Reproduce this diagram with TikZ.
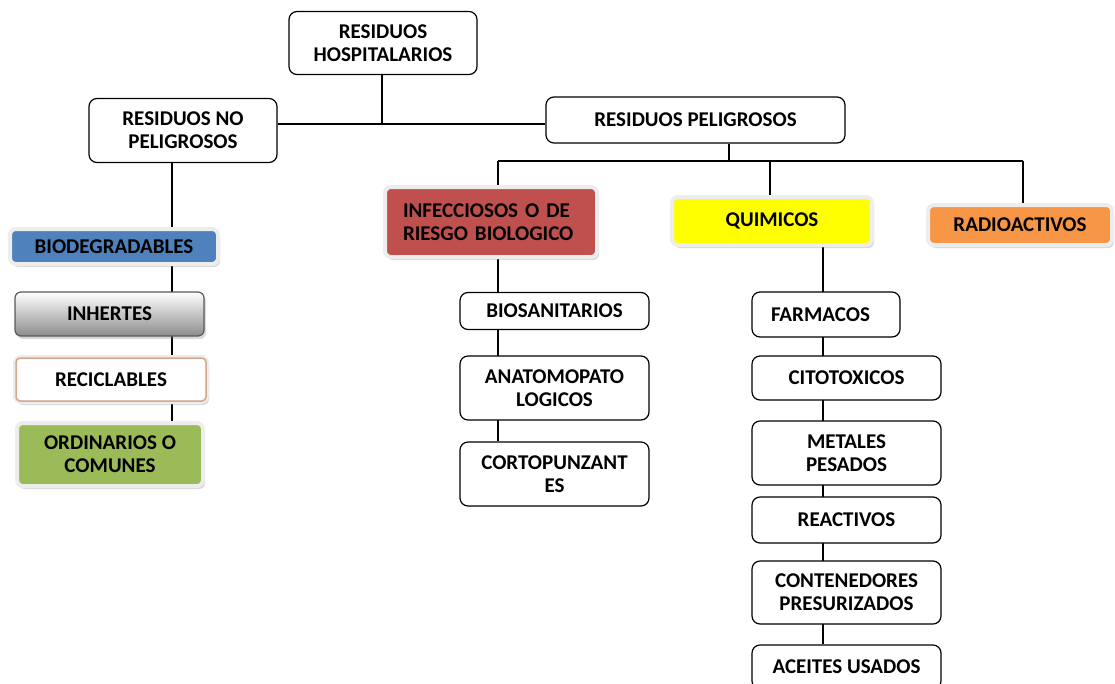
\documentclass[tikz,border=0pt]{standalone}
\usepackage{fontspec}
\setmainfont{Carlito}
\usepackage{tikz}
\usetikzlibrary{shadows,backgrounds}

\definecolor{azul}{HTML}{4F81BD}
\definecolor{rojo}{HTML}{C0504D}
\definecolor{amarillo}{HTML}{FFFF00}
\definecolor{naranja}{HTML}{F79646}
\definecolor{verde}{HTML}{9BBB59}
\definecolor{canela}{HTML}{D8A88C}

\begin{document}
\begin{tikzpicture}[x=1pt,y=-1pt,
  font=\fontsize{21}{23}\selectfont\bfseries,
  caja/.style={draw, fill=white, line width=1.2pt, rounded corners=8pt, align=center,
    inner sep=0pt, minimum width=#1},
  caja/.default=189pt,
  tinte/.style={fill=#1, draw=black!7, line width=4pt, rounded corners=6pt,
    align=center, inner sep=0pt,
    drop shadow={shadow xshift=2pt, shadow yshift=-3pt, opacity=0.3}},
  linea/.style={line width=1.1pt}]
\useasboundingbox (0,0) rectangle (1115,683);

% nivel 1 y 2
\node[caja=188pt, minimum height=63pt] (hosp) at (383,43) {RESIDUOS\\HOSPITALARIOS};
\node[caja=188pt, minimum height=64pt] (nopel) at (183,130.5) {RESIDUOS NO\\PELIGROSOS};
\node[caja=299pt, minimum height=46pt] (pel) at (695.5,120) {RESIDUOS PELIGROSOS};

% tipos peligrosos
\node[tinte=rojo, minimum width=212pt, minimum height=70pt, text width=176pt,
  inner xsep=18pt, align=left] (inf) at (491,222) {INFECCIOSOS O DE\\RIESGO BIOLOGICO};
\node[tinte=amarillo, minimum width=200pt, minimum height=48pt] (quim) at (772,221) {QUIMICOS};
\node[tinte=naranja, minimum width=184pt, minimum height=40pt] (radio) at (1020,225) {RADIOACTIVOS};

% no peligrosos
\node[tinte=azul, minimum width=208pt, minimum height=35pt] (bio) at (114,246.5) {BIODEGRADABLES};
\node[draw=black!65, line width=1.2pt, rounded corners=6pt, minimum width=189pt,
  minimum height=44pt, top color=white, bottom color=black!45,
  drop shadow={shadow xshift=2pt, shadow yshift=-3pt, opacity=0.3}] (inh) at (109.5,314) {INHERTES};
\node[tinte=white, minimum width=192pt, minimum height=45pt] (reci) at (111,379.5) {RECICLABLES};
\draw[canela, line width=1.5pt, rounded corners=4pt]
  ([xshift=3pt,yshift=-3pt]reci.north west) rectangle ([xshift=-3pt,yshift=3pt]reci.south east);
\node[tinte=verde, minimum width=186pt, minimum height=63pt] (ordi) at (110,454.5) {ORDINARIOS O\\COMUNES};

% infecciosos
\node[caja, minimum height=37pt] (biosan) at (554.5,311) {BIOSANITARIOS};
\node[caja, minimum height=64pt] (anato) at (554.5,388) {ANATOMOPATO\\LOGICOS};
\node[caja, minimum height=64pt] (corto) at (554.5,474) {CORTOPUNZANT\\ES};

% quimicos
\node[caja=148pt, minimum height=45pt, text width=110pt, align=left] (farm) at (826,314.5) {FARMACOS};
\node[caja, minimum height=44pt] (cito) at (846.5,378) {CITOTOXICOS};
\node[caja, minimum height=64pt] (metal) at (846.5,453) {METALES\\PESADOS};
\node[caja, minimum height=46pt] (reac) at (846.5,520) {REACTIVOS};
\node[caja, minimum height=63pt] (cont) at (846.5,592.5) {CONTENEDORES\\PRESURIZADOS};
\node[caja, minimum height=44pt] (aceit) at (846.5,667) {ACEITES USADOS};

\coordinate (j1) at (382,124);
\coordinate (j2) at (729,161);
\coordinate (jinf) at (498,161);
\coordinate (jquim) at (770,161);
\coordinate (jrad) at (1023,161);

\begin{scope}[on background layer]
\draw[linea] (hosp.south -| j1) -- (j1);
\draw[linea] (nopel.east |- j1) -- (pel.west |- j1);
\draw[linea] (pel.south -| j2) -- (j2);
\draw[linea] (jinf) -- (jrad);
\draw[linea] (jinf) -- (jinf |- inf.north);
\draw[linea] (jquim) -- (jquim |- quim.north);
\draw[linea] (jrad) -- (jrad |- radio.north);
\draw[linea] (nopel.south -| 172,0) -- (ordi.north -| 172,0);
\draw[linea] (inf.south -| 498,0) -- (corto.north -| 498,0);
\draw[linea] (quim.south -| 823,0) -- (aceit.north -| 823,0);
\end{scope}
\end{tikzpicture}
\end{document}
